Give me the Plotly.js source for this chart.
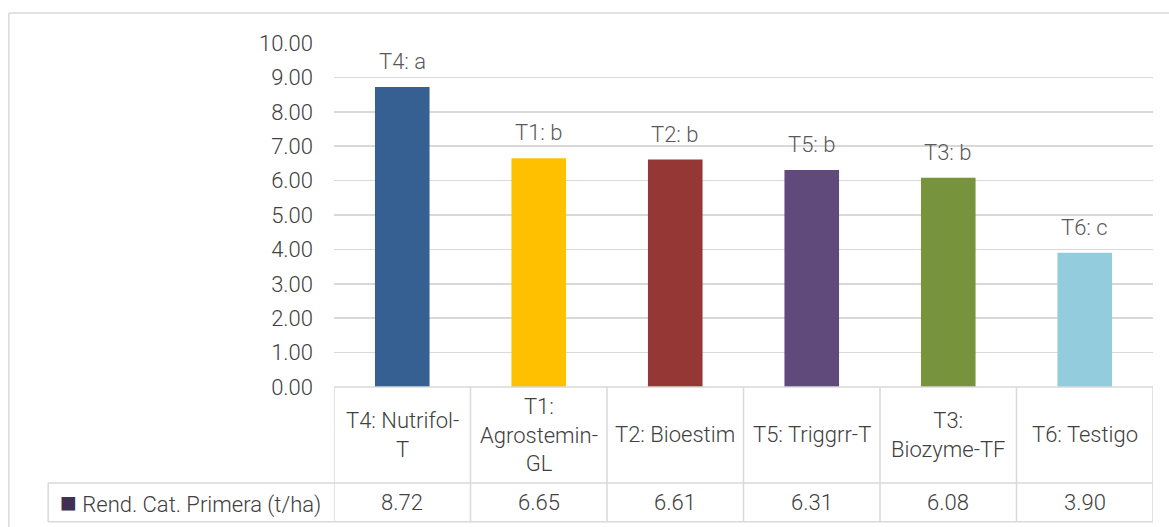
<!DOCTYPE html>
<html>
<head>
<meta charset="utf-8">
<script src="https://cdn.plot.ly/plotly-3.0.1.min.js"></script>
<style>html,body{margin:0;padding:0;background:#fff;}#chart{width:1169px;height:527px;}</style>
</head>
<body>
<div id="chart"></div>
<script>
const categories = ['T4: Nutrifol-T', 'T1: Agrostemin-GL', 'T2: Bioestim', 'T5: Triggrr-T', 'T3: Biozyme-TF', 'T6: Testigo'];
const tableLabels = ['T4: Nutrifol-<br>T', 'T1:<br>Agrostemin-<br>GL', 'T2: Bioestim', 'T5: Triggrr-T', 'T3:<br>Biozyme-TF', 'T6: Testigo'];
const values = [8.72, 6.65, 6.61, 6.31, 6.08, 3.90];
const letterLabels = ['T4: a', 'T1: b', 'T2: b', 'T5: b', 'T3: b', 'T6: c'];
const barColors = ['#376092', '#FFC000', '#953735', '#604A7B', '#77933C', '#93CDDD'];
const seriesName = 'Rend. Cat. Primera (t/ha)';
const legendColor = '#403152';

const FONT = 'Roboto, "Liberation Sans", Arial, sans-serif';
const TXT = '#404040';
const LINE = '#d9d9d9';
const FS = 22;
const FW = 300;

const trace = {
  type: 'bar',
  x: categories,
  y: values,
  width: 0.4,
  marker: {color: barColors},
  hoverinfo: 'skip'
};

const annotations = [];
categories.forEach((c, i) => {
  annotations.push({x: c, y: values[i], xref: 'x', yref: 'y', text: letterLabels[i], showarrow: false,
    yanchor: 'bottom', yshift: 11, font: {family: FONT, size: FS, weight: FW, color: '#595959'}});
});
categories.forEach((c, i) => {
  annotations.push({x: c, y: -0.1395, xref: 'x', yref: 'paper', text: tableLabels[i], showarrow: false,
    yanchor: 'middle', xanchor: 'center', font: {family: FONT, size: FS, weight: FW, color: TXT}});
});
categories.forEach((c, i) => {
  annotations.push({x: c, y: -0.336, xref: 'x', yref: 'paper', text: values[i].toFixed(2), showarrow: false,
    yanchor: 'middle', xanchor: 'center', font: {family: FONT, size: FS, weight: FW, color: TXT}});
});
annotations.push({x: -0.337, y: -0.336, xref: 'paper', yref: 'paper', xanchor: 'left', yanchor: 'middle', showarrow: false,
  text: '<span style="color:' + legendColor + ';font-size:28px">\u25A0</span> ' + seriesName,
  font: {family: FONT, size: FS, weight: FW, color: TXT}});

const shapes = [];
const ln = {color: LINE, width: 1.5};
shapes.push({type: 'line', xref: 'x', yref: 'paper', x0: -0.5, x1: categories.length - 0.5, y0: 0, y1: 0, line: ln});
shapes.push({type: 'line', xref: 'paper', yref: 'paper', x0: -0.349, x1: 1, y0: -0.279, y1: -0.279, line: ln});
shapes.push({type: 'line', xref: 'paper', yref: 'paper', x0: -0.349, x1: 1, y0: -0.392, y1: -0.392, line: ln});
for (let i = 0; i <= categories.length; i++) {
  shapes.push({type: 'line', xref: 'x', yref: 'paper', x0: i - 0.5, x1: i - 0.5, y0: 0, y1: -0.392, line: ln});
}
shapes.push({type: 'line', xref: 'paper', yref: 'paper', x0: -0.349, x1: -0.349, y0: -0.279, y1: -0.392, line: ln});
shapes.push({type: 'line', xref: 'paper', yref: 'paper', x0: -0.397, x1: 1.05, y0: 1.087, y1: 1.087, line: ln});
shapes.push({type: 'line', xref: 'paper', yref: 'paper', x0: -0.397, x1: -0.397, y0: 1.087, y1: -0.6, line: ln});

const layout = {
  width: 1169, height: 527,
  margin: {l: 334, r: 16, t: 43, b: 140},
  paper_bgcolor: '#fff', plot_bgcolor: '#fff',
  showlegend: false,
  xaxis: {type: 'category', range: [-0.5, categories.length - 0.5], showticklabels: false, showgrid: false,
    zeroline: false, showline: false, ticks: '', fixedrange: true},
  yaxis: {range: [0, 10], dtick: 1, tick0: 0, tickformat: '.2f', showgrid: true, gridcolor: LINE, gridwidth: 1.5,
    zeroline: false, showline: false, ticks: '', ticklabelstandoff: 20,
    tickfont: {family: FONT, size: FS, weight: FW, color: TXT}, fixedrange: true},
  annotations: annotations,
  shapes: shapes
};

Plotly.newPlot('chart', [trace], layout, {displayModeBar: false, staticPlot: true});
</script>
</body>
</html>
